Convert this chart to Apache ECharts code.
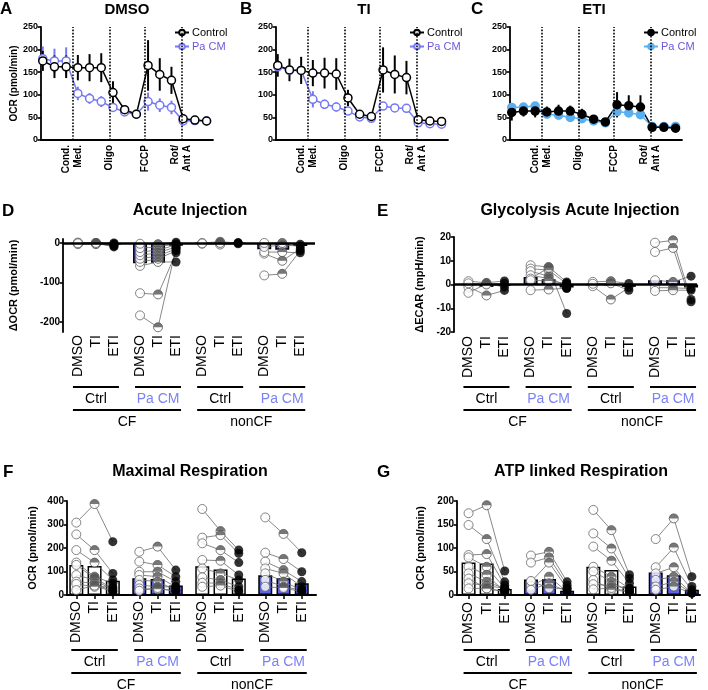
<!DOCTYPE html>
<html>
<head>
<meta charset="utf-8">
<script src="https://cdn.jsdelivr.net/npm/echarts@6/dist/echarts.min.js"></script>
<style>
html, body { margin: 0; padding: 0; background: #fff; }
#main { width: 708px; height: 690px; }
</style>
</head>
<body>
<div id="main"></div>
<script>
var FONT = '"Liberation Sans", Arial, Helvetica, sans-serif';
var BLUE = '#7579f2';
var LIGHTBLUE = '#5aaff0';
var BARBLUE = '#5b62ec';
var LEGEND_PURPLE = '#6b57dc';
var LABEL_BLUE = '#7c82f2';

// ---- time course (A-C) ----
var cycles = [1, 2, 3, 4, 5, 6, 7, 8, 9, 10, 11, 12, 13, 14, 15];
var injPos = [3.55, 6.7, 9.75, 12.85];
var injNames = ['Cond.\nMed.', 'Oligo', 'FCCP', 'Rot/\nAnt A'];

var dmsoCtrl = [175, 162, 162, 160, 160, 160, 105, 67, 57, 165, 145, 132, 47, 44, 42];
var dmsoCtrlErr = [22, 25, 25, 28, 30, 32, 25, 6, 4, 56, 36, 30, 4, 3, 3];
var dmsoPa = [180, 175, 175, 103, 92, 85, 72, 62, 57, 85, 77, 72, 42, 43, 42];
var dmsoPaErr = [27, 27, 30, 15, 12, 12, 10, 6, 4, 20, 15, 15, 3, 3, 3];

var tiCtrl = [165, 155, 154, 148, 148, 146, 93, 57, 52, 155, 145, 138, 45, 42, 41];
var tiCtrlErr = [25, 25, 30, 29, 34, 35, 18, 5, 5, 50, 42, 37, 5, 5, 5];
var tiPa = [162, 154, 154, 90, 79, 73, 64, 51, 48, 75, 71, 70, 38, 36, 35];
var tiPaErr = [10, 8, 8, 18, 10, 10, 8, 5, 4, 8, 8, 8, 3, 3, 3];

var etiCtrl = [61, 64, 64, 62, 64, 64, 57, 46, 40, 78, 76, 73, 28, 28, 26];
var etiCtrlErr = [18, 12, 14, 12, 14, 12, 12, 7, 5, 28, 23, 26, 3, 3, 3];
var etiPa = [72, 73, 75, 57, 55, 50, 47, 42, 38, 63, 60, 56, 30, 30, 30];
var etiPaErr = [5, 5, 6, 5, 5, 5, 4, 3, 3, 8, 8, 8, 2, 2, 2];

// ---- paired data (D-G), each row = one donor: [DMSO, TI, ETI] ----
var catPos = [1, 2, 3, 4.45, 5.45, 6.45, 7.9, 8.9, 9.9, 11.35, 12.35, 13.35];
var catNames = ['DMSO', 'TI', 'ETI'];
var subNames = ['Ctrl', 'Pa CM', 'Ctrl', 'Pa CM'];
var mainNames = ['CF', 'nonCF'];

var acuteCfCtrl = [[0, 0, -2], [-2, -3, -5], [-3, -1, -8], [1, 0, -10], [0, -2, -4], [-1, 0, 0]];
var acuteCfPa = [[-183, -213, -12], [-127, -130, -25], [-58, -48, -48], [-48, -40, -20], [-40, -33, -15], [-31, -25, -10], [-23, -18, -5], [-13, -10, -2], [-2, -3, 2]];
var acuteNonCtrl = [[0, 3, 0], [-2, -4, -2], [-1, 0, 1]];
var acuteNonPa = [[-82, -78, -20], [-27, -45, -15], [-23, -23, -25], [-10, -5, -8], [0, 0, -3]];
var acuteBars = [-2, -2, -4, -51, -50, -7, -1, -1, -1, -16, -17, -8];

var glycoCfCtrl = [[1.4, 0.7, 1.5], [-1, -4.6, -2.5], [-3.5, 0.3, -1], [0.5, 0, 0.5]];
var glycoCfPa = [[8.1, 7.4, 1.1], [6.7, 6, 0.4], [5.6, 3.5, -1.3], [3.9, 2.5, -1.7], [2.5, 7, -12.2], [1.8, 1.5, 0.5], [-2.4, -2.1, -1.5]];
var glycoNonCtrl = [[1.1, 1.4, 0.4], [-0.7, -6.3, -1.3], [0.3, 0.5, -2.4]];
var glycoNonPa = [[17.6, 18.6, -6.3], [13.7, 15.4, -7.3], [1.8, 1.1, 3.5], [-1.3, -1.4, -1.7], [-2.7, -2.4, -2.4]];
var glycoBars = [0, -1, -0.5, 3.2, 2.2, -1.3, 0, -0.3, -1, 1.8, 1.8, -1.3];

var maxCfCtrl = [[308, 387, 227], [258, 191, 92], [191, 138, 64], [138, 78, 50], [128, 71, 28], [85, 64, 21], [57, 50, 14], [47, 35, 35], [21, 40, 14]];
var maxCfPa = [[184, 206, 106], [142, 128, 78], [99, 99, 57], [85, 78, 35], [64, 57, 21], [43, 35, 35], [28, 24, 21], [18, 30, 14]];
var maxNonCtrl = [[366, 272, 191], [244, 255, 177], [220, 191, 138], [149, 146, 85], [113, 92, 64], [75, 64, 35], [52, 50, 21], [35, 40, 14]];
var maxNonPa = [[330, 260, 180], [180, 153, 99], [142, 106, 57], [113, 92, 35], [92, 57, 21], [64, 35, 21], [35, 30, 14]];
var maxBars = [128, 123, 61, 71, 68, 40, 122, 109, 70, 84, 71, 50];

var atpCfCtrl = [[174, 191, 51], [149, 119, 28], [85, 87, 21], [80, 60, 14], [60, 43, 7], [46, 28, 14], [35, 14, 7], [25, 20, 14], [14, 14, 7]];
var atpCfPa = [[84, 92, 28], [69, 80, 21], [28, 69, 14], [19, 39, 7], [11, 25, 7], [30, 14, 14]];
var atpNonCtrl = [[181, 138, 43], [131, 99, 35], [103, 73, 25], [60, 39, 14], [50, 28, 7], [32, 11, 7], [23, 20, 14], [12, 15, 7]];
var atpNonPa = [[119, 163, 39], [59, 101, 18], [46, 59, 11], [32, 39, 4], [18, 28, 4], [11, 18, 4]];
var atpBars = [69, 67, 13, 33, 34, 9, 60, 53, 18, 48, 42, 11];

var HALF = 'path://M0,5A5,5,0,0,1,10,5Z';

var chart = echarts.init(document.getElementById('main'));

var timePanels = [
    { key: 'A', left: 41, title: 'DMSO', ctrl: dmsoCtrl, ctrlErr: dmsoCtrlErr, pa: dmsoPa, paErr: dmsoPaErr, mark: 'open', paColor: BLUE, yName: 'OCR (pmol/min)' },
    { key: 'B', left: 276, title: 'TI', ctrl: tiCtrl, ctrlErr: tiCtrlErr, pa: tiPa, paErr: tiPaErr, mark: 'half', paColor: BLUE, yName: '' },
    { key: 'C', left: 510, title: 'ETI', ctrl: etiCtrl, ctrlErr: etiCtrlErr, pa: etiPa, paErr: etiPaErr, mark: 'filled', paColor: LIGHTBLUE, yName: '' }
];

var barPanels = [
    { key: 'D', grid: { left: 63, top: 239, width: 252, height: 93 }, xmin: 0.17, xmax: 14.17, ymin: -225, ymax: 10, yTicks: [-200, -100, 0], zero: true, lblMargin: 3, nameGap: 44, yName: 'ΔOCR (pmol/min)', groups: [acuteCfCtrl, acuteCfPa, acuteNonCtrl, acuteNonPa], bars: acuteBars },
    { key: 'E', grid: { left: 454, top: 237, width: 243, height: 95 }, xmin: 0.2, xmax: 13.68, ymin: -20, ymax: 20, yTicks: [-20, -10, 0, 10, 20], zero: true, lblMargin: 4, nameGap: 29, yName: 'ΔECAR (mpH/min)', groups: [glycoCfCtrl, glycoCfPa, glycoNonCtrl, glycoNonPa], bars: glycoBars },
    { key: 'F', grid: { left: 67, top: 501, width: 249, height: 94 }, xmin: 0.49, xmax: 14.13, ymin: 0, ymax: 400, yTicks: [0, 100, 200, 300, 400], zero: false, lblMargin: 6, nameGap: 29, yName: 'OCR (pmol/min)', groups: [maxCfCtrl, maxCfPa, maxNonCtrl, maxNonPa], bars: maxBars },
    { key: 'G', grid: { left: 457, top: 501, width: 243, height: 94 }, xmin: 0.36, xmax: 13.8, ymin: 0, ymax: 200, yTicks: [0, 50, 100, 150, 200], zero: false, lblMargin: 7, nameGap: 31, yName: 'OCR (pmol/min)', groups: [atpCfCtrl, atpCfPa, atpNonCtrl, atpNonPa], bars: atpBars }
];

var titles = [
    ['A', 0, 1, 17, 'left'], ['DMSO', 127, 2, 15, 'center'],
    ['B', 240, 1, 17, 'left'], ['TI', 364, 2, 15, 'center'],
    ['C', 471, 1, 17, 'left'], ['ETI', 594, 2, 15, 'center'],
    ['D', 2, 203, 17, 'left'], ['Acute Injection', 190, 203, 16, 'center'],
    ['E', 377, 203, 17, 'left'], ['Glycolysis Acute Injection', 580, 203, 16, 'center'],
    ['F', 3, 464, 17, 'left'], ['Maximal Respiration', 190, 464, 16, 'center'],
    ['G', 377, 464, 17, 'left'], ['ATP linked Respiration', 581, 464, 16, 'center']
];

function nearestIndex(list, v) {
    var best = 0;
    for (var i = 1; i < list.length; i++) {
        if (Math.abs(list[i] - v) < Math.abs(list[best] - v)) best = i;
    }
    return best;
}

function yAxisBase(gi, min, max, ticks, fs) {
    return {
        type: 'value', gridIndex: gi, min: min, max: max,
        axisLine: { show: true, onZero: false, lineStyle: { color: '#000', width: 1.8 } },
        axisTick: { show: true, length: 3.5, customValues: ticks, lineStyle: { color: '#000', width: 1.6 } },
        axisLabel: { customValues: ticks, color: '#000', fontWeight: 'bold', fontSize: fs, fontFamily: FONT, margin: 3 },
        splitLine: { show: false }
    };
}

function errSeries(gi, vals, errs, color) {
    return {
        type: 'custom', xAxisIndex: gi, yAxisIndex: gi, silent: true,
        encode: { x: 0, y: [1, 2] },
        data: vals.map(function (v, i) { return [cycles[i], v - errs[i], v + errs[i]]; }),
        renderItem: function (params, api) {
            var lo = api.coord([api.value(0), api.value(1)]);
            var hi = api.coord([api.value(0), api.value(2)]);
            return { type: 'line', shape: { x1: lo[0], y1: lo[1], x2: hi[0], y2: hi[1] }, style: { stroke: color, lineWidth: 2 } };
        }
    };
}

function lineSeries(gi, name, vals, color, mark) {
    return {
        type: 'line', name: name, xAxisIndex: gi, yAxisIndex: gi,
        data: vals.map(function (v, i) { return [cycles[i], v]; }),
        symbol: 'circle', symbolSize: 8,
        itemStyle: { color: mark === 'filled' ? color : '#fff', borderColor: color, borderWidth: 1.5 },
        lineStyle: { color: color, width: 1.5 }
    };
}

function halfSeries(gi, vals, color) {
    return {
        type: 'scatter', xAxisIndex: gi, yAxisIndex: gi, silent: true,
        data: vals.map(function (v, i) { return [cycles[i], v]; }),
        symbol: HALF, symbolSize: [8, 4], symbolOffset: [0, -2],
        itemStyle: { color: color }
    };
}

var grids = [], xAxes = [], yAxes = [], series = [], legends = [];

timePanels.forEach(function (p, gi) {
    grids.push({ left: p.left, top: 27, width: 172, height: 113 });
    xAxes.push({
        type: 'value', gridIndex: gi, min: 0.85, max: 15.55,
        axisLine: { show: true, onZero: false, lineStyle: { color: '#000', width: 1.8 } },
        axisTick: { show: false },
        splitLine: { show: false },
        axisLabel: {
            customValues: injPos, rotate: 90, margin: 5, color: '#000', fontWeight: 'bold',
            fontSize: 10, lineHeight: 12, fontFamily: FONT,
            formatter: function (v) { return injNames[nearestIndex(injPos, v)]; }
        }
    });
    var ya = yAxisBase(gi, 0, 250, [0, 50, 100, 150, 200, 250], 9);
    ya.name = p.yName;
    ya.nameLocation = 'middle';
    ya.nameGap = 22;
    ya.nameTextStyle = { color: '#000', fontWeight: 'bold', fontSize: 10, fontFamily: FONT };
    yAxes.push(ya);

    var ctrlName = p.key + '|Control', paName = p.key + '|Pa CM';
    series.push(errSeries(gi, p.pa, p.paErr, p.paColor));
    series.push(lineSeries(gi, paName, p.pa, p.paColor, p.mark));
    series.push(errSeries(gi, p.ctrl, p.ctrlErr, '#000'));
    var cs = lineSeries(gi, ctrlName, p.ctrl, '#000', p.mark);
    cs.markLine = {
        silent: true, symbol: 'none', label: { show: false },
        lineStyle: { type: 'dotted', color: '#000', width: 1.6 },
        data: injPos.map(function (x) { return { xAxis: x }; })
    };
    series.push(cs);
    if (p.mark === 'half') {
        series.push(halfSeries(gi, p.pa, p.paColor));
        series.push(halfSeries(gi, p.ctrl, '#000'));
    }
    legends.push({
        orient: 'vertical', left: p.left + 133, top: 27, padding: 0,
        itemWidth: 14, itemHeight: 7, itemGap: 3, selectedMode: false,
        textStyle: { fontSize: 11, fontFamily: FONT, padding: [0, 0, 0, -2] },
        formatter: function (n) { return n.split('|')[1]; },
        data: [
            { name: ctrlName, textStyle: { color: '#000' } },
            { name: paName, textStyle: { color: LEGEND_PURPLE } }
        ]
    });
});

barPanels.forEach(function (p, k) {
    var gi = 3 + k;
    grids.push(p.grid);
    xAxes.push({
        type: 'value', gridIndex: gi, min: p.xmin, max: p.xmax,
        axisLine: { show: !p.zero, onZero: false, lineStyle: { color: '#000', width: 2 } },
        axisTick: { show: !p.zero, length: 4, customValues: catPos, lineStyle: { color: '#000', width: 1.5 } },
        splitLine: { show: false },
        axisLabel: {
            customValues: catPos, rotate: 90, margin: p.lblMargin, color: '#000',
            fontSize: 14, fontFamily: FONT,
            formatter: function (v) { return catNames[nearestIndex(catPos, v) % 3]; }
        }
    });
    var ya = yAxisBase(gi, p.ymin, p.ymax, p.yTicks, 10);
    ya.name = p.yName;
    ya.nameLocation = 'middle';
    ya.nameGap = p.nameGap;
    ya.nameTextStyle = { color: '#000', fontWeight: 'bold', fontSize: 11, fontFamily: FONT };
    yAxes.push(ya);

    var bar = {
        type: 'bar', xAxisIndex: gi, yAxisIndex: gi, barWidth: 14, z: 1, silent: true,
        itemStyle: { borderColor: '#000', borderWidth: 1.5 },
        data: p.bars.map(function (v, i) {
            return { value: [catPos[i], v], itemStyle: { color: Math.floor(i / 3) % 2 ? BARBLUE : '#fff' } };
        })
    };
    if (p.zero) {
        bar.markLine = {
            silent: true, symbol: 'none', label: { show: false },
            lineStyle: { type: 'solid', color: '#000', width: 2.5 },
            data: [{ yAxis: 0 }]
        };
    }
    series.push(bar);

    // donor lines
    p.groups.forEach(function (grp, g) {
        grp.forEach(function (s) {
            series.push({
                type: 'line', xAxisIndex: gi, yAxisIndex: gi, z: 2, symbol: 'none', silent: true,
                lineStyle: { color: '#6a6a6a', width: 0.8 },
                data: s.map(function (v, j) { return [catPos[3 * g + j], v]; })
            });
        });
    });

    // points per treatment
    function pts(j) {
        var out = [];
        p.groups.forEach(function (grp, g) {
            grp.forEach(function (s) { out.push([catPos[3 * g + j], s[j]]); });
        });
        return out;
    }
    series.push({
        type: 'scatter', xAxisIndex: gi, yAxisIndex: gi, z: 3, silent: true, data: pts(0),
        symbol: 'circle', symbolSize: 9, itemStyle: { color: '#fff', borderColor: '#666', borderWidth: 1 }
    });
    series.push({
        type: 'scatter', xAxisIndex: gi, yAxisIndex: gi, z: 3, silent: true, data: pts(1),
        symbol: 'circle', symbolSize: 9, itemStyle: { color: '#fff', borderColor: '#555', borderWidth: 1 }
    });
    series.push({
        type: 'scatter', xAxisIndex: gi, yAxisIndex: gi, z: 4, silent: true, data: pts(1),
        symbol: HALF, symbolSize: [9, 4.5], symbolOffset: [0, -2.25], itemStyle: { color: '#555' }
    });
    series.push({
        type: 'scatter', xAxisIndex: gi, yAxisIndex: gi, z: 3, silent: true, data: pts(2),
        symbol: 'circle', symbolSize: 9, itemStyle: { color: '#000' }
    });
});

var option = {
    animation: false,
    backgroundColor: '#fff',
    textStyle: { fontFamily: FONT },
    title: titles.map(function (t) {
        return {
            text: t[0], left: t[1], top: t[2], padding: 0, textAlign: t[4],
            textStyle: { fontSize: t[3], fontWeight: 'bold', color: '#000', fontFamily: FONT }
        };
    }),
    legend: legends,
    grid: grids,
    xAxis: xAxes,
    yAxis: yAxes,
    series: series
};
chart.setOption(option);

// group brackets under the categories, placed from the axis scale
var extra = [];
function bracket(x0, x1, y) {
    return { type: 'line', silent: true, shape: { x1: x0, y1: y, x2: x1, y2: y }, style: { stroke: '#000', lineWidth: 2 } };
}
function label(txt, x, y, color) {
    return {
        type: 'text', silent: true, x: x, y: y,
        style: { text: txt, fill: color, font: '14px ' + FONT, align: 'center', verticalAlign: 'middle', textAlign: 'center', textVerticalAlign: 'middle' }
    };
}
barPanels.forEach(function (p, k) {
    var ax = 3 + k;
    var yb = p.grid.top + p.grid.height;
    function px(v) { return chart.convertToPixel({ xAxisIndex: ax }, v); }
    for (var g = 0; g < 4; g++) {
        var a = px(catPos[3 * g]) - 5, b = px(catPos[3 * g + 2]) + 5;
        extra.push(bracket(a, b, yb + 55));
        extra.push(label(subNames[g], (a + b) / 2, yb + 67, g % 2 ? LABEL_BLUE : '#000'));
    }
    for (var m = 0; m < 2; m++) {
        var a2 = px(catPos[6 * m]) - 5, b2 = px(catPos[6 * m + 5]) + 5;
        extra.push(bracket(a2, b2, yb + 78));
        extra.push(label(mainNames[m], (a2 + b2) / 2, yb + 90, '#000'));
    }
});
chart.setOption({ graphic: extra });
</script>
</body>
</html>
